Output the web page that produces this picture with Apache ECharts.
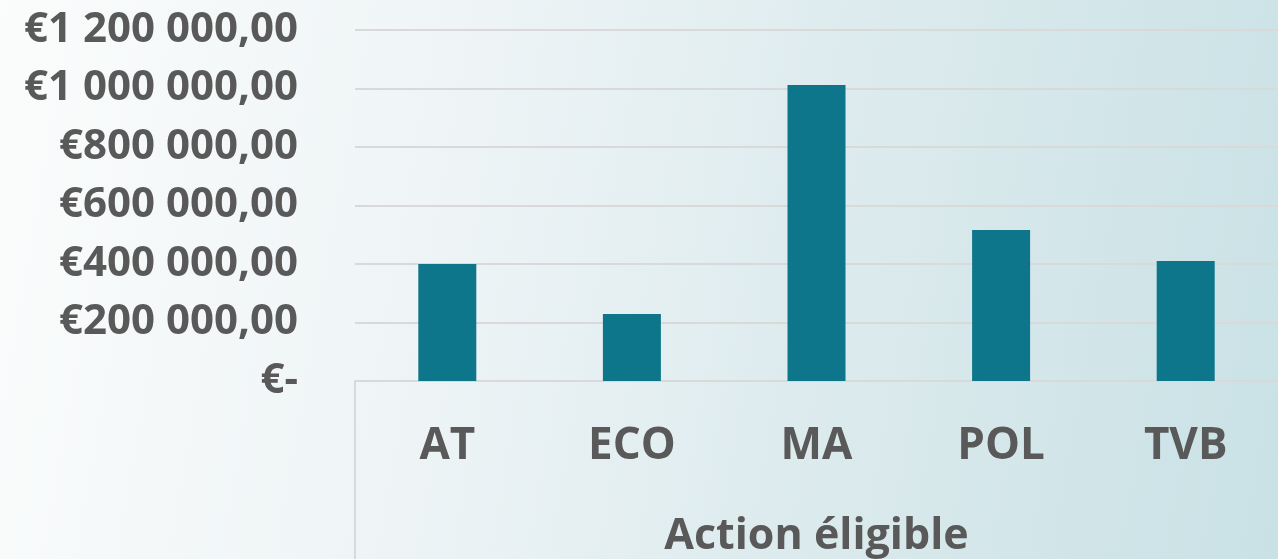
<!DOCTYPE html>
<html>
<head>
<meta charset="utf-8">
<script src="https://cdn.jsdelivr.net/npm/echarts@6/dist/echarts.min.js"></script>
<style>
  html, body { margin: 0; padding: 0; }
  body {
    width: 1278px; height: 559px;
    background: linear-gradient(100deg, #fbfcfc 0%, #eef4f6 35%, #d9e9ec 70%, #c9e1e5 100%);
  }
  #chart { width: 1278px; height: 559px; }
</style>
</head>
<body>
<div id="chart"></div>
<script>
var categories = ['AT', 'ECO', 'MA', 'POL', 'TVB'];
var values = [400000, 229000, 1012000, 516000, 410000];
var yTicks = [0, 200000, 400000, 600000, 800000, 1000000, 1200000];

function formatEuro(v) {
  if (v === 0) return '€-';
  var s = String(Math.round(v)).replace(/\B(?=(\d{3})+(?!\d))/g, ' ');
  return '€' + s + ',00';
}

var myChart = echarts.init(document.getElementById('chart'));
var option = {
  backgroundColor: 'transparent',
  animation: false,
  grid: { left: 355, right: 0, top: 30, bottom: 178, outerBoundsMode: 'none', containLabel: false },
  xAxis: {
    type: 'category',
    data: categories,
    axisTick: { show: false },
    axisLine: { show: true, lineStyle: { color: '#d9d9d9', width: 2 } },
    axisLabel: {
      color: '#595959', fontFamily: 'Open Sans', fontWeight: 'bold',
      fontSize: 44, margin: 43
    },
    name: 'Action éligible',
    nameLocation: 'middle',
    nameGap: 134,
    nameTextStyle: {
      color: '#595959', fontFamily: 'Open Sans', fontWeight: 'bold', fontSize: 43
    }
  },
  yAxis: {
    type: 'value',
    min: 0, max: 1200000, interval: 200000,
    axisLine: { show: false },
    axisTick: { show: false },
    splitLine: { lineStyle: { color: '#d9d9d9', width: 2 } },
    axisLabel: {
      color: '#595959', fontFamily: 'Open Sans', fontWeight: 'bold',
      fontSize: 42, margin: 57,
      formatter: formatEuro
    }
  },
  graphic: [{
    type: 'line',
    shape: { x1: 355, y1: 381, x2: 355, y2: 559 },
    style: { stroke: '#d9d9d9', lineWidth: 2 }
  }],
  series: [{
    type: 'bar',
    data: values,
    barWidth: 58,
    itemStyle: { color: '#0e768a' }
  }]
};
myChart.setOption(option);
</script>
</body>
</html>
